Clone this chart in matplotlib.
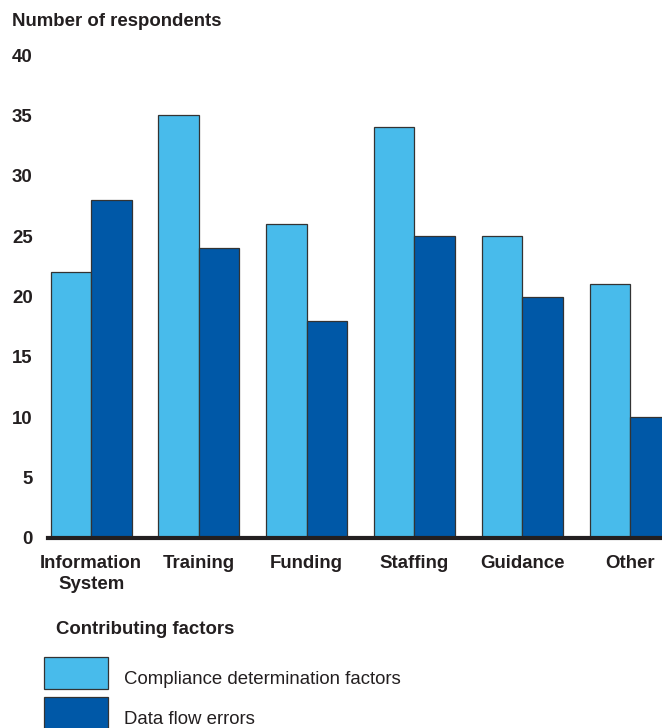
import matplotlib
matplotlib.use("Agg")
import matplotlib.pyplot as plt
import numpy as np
from matplotlib.patches import Rectangle

plt.rcParams['font.family'] = ['Liberation Sans', 'DejaVu Sans']

categories = ["Information\nSystem", "Training", "Funding", "Staffing", "Guidance", "Other"]
compliance = [22, 35, 26, 34, 25, 21]
data_flow = [28, 24, 18, 25, 20, 10]
series_names = ["Compliance determination factors", "Data flow errors"]
yticks = [0, 5, 10, 15, 20, 25, 30, 35, 40]

light = "#48BBEB"
dark = "#0058A7"
edge = "#333333"
txt = "#231F20"
fs = 13.4

W, H = 662, 728
fig = plt.figure(figsize=(W / 100, H / 100), dpi=100)
# axes: left at x=48px, bottom at y=538px, top (40) at y=55px, right runs to figure edge
ax = fig.add_axes([48 / W, (H - 538) / H, 1 - 48 / W, (538 - 55) / H])

x = np.arange(len(categories))
width = 0.375
ax.bar(x - width / 2, compliance, width, color=light, edgecolor=edge, linewidth=0.9, zorder=2)
ax.bar(x + width / 2, data_flow, width, color=dark, edgecolor=edge, linewidth=0.9, zorder=2)

ax.set_xlim(-0.4, 5.297)
ax.set_ylim(0, 40)
ax.set_yticks(yticks)
ax.set_yticklabels([str(v) for v in yticks], fontsize=fs, fontweight='bold', color=txt)
ax.set_xticks(x)
ax.set_xticklabels(categories, fontsize=fs, fontweight='bold', color=txt, linespacing=1.25)
ax.tick_params(axis='y', length=0, pad=11)
ax.tick_params(axis='x', length=0, pad=12.5)

for s in ['top', 'right', 'left']:
    ax.spines[s].set_visible(False)
ax.spines['bottom'].set_linewidth(3)
ax.spines['bottom'].set_color(txt)
ax.spines['bottom'].set_zorder(3)

fig.text(12 / W, 1 - 22 / H, "Number of respondents", fontsize=fs, fontweight='bold',
         color=txt, ha='left', va='center')
fig.text(56 / W, 1 - 629 / H, "Contributing factors", fontsize=fs, fontweight='bold',
         color=txt, ha='left', va='center')

# legend drawn by hand below the chart
for i, (name, col) in enumerate(zip(series_names, [light, dark])):
    top = 657 + i * 40
    fig.patches.append(Rectangle((44 / W, 1 - (top + 32) / H), 64 / W, 32 / H,
                                 transform=fig.transFigure, facecolor=col,
                                 edgecolor=edge, linewidth=0.9))
    fig.text(124 / W, 1 - (top + 22) / H, name, fontsize=fs, color=txt,
             ha='left', va='center')

fig.savefig("out.png", dpi=100)
